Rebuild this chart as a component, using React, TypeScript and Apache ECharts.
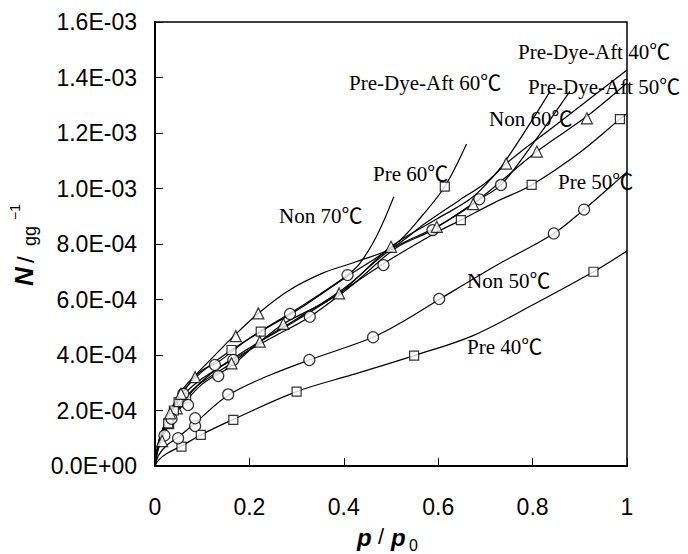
import React, { useEffect, useRef } from 'react';
import * as echarts from 'echarts';

// x: p/p0 ; y: N in units of 1E-04 g/g
const xTickValues = [0, 0.2, 0.4, 0.6, 0.8, 1];
const yTickValues = [0, 2, 4, 6, 8, 10, 12, 14, 16];

const pre40Line = [[0,0],[0.008,0.22],[0.025,0.45],[0.056,0.72],[0.097,1.12],[0.166,1.68],[0.3,2.68],[0.42,3.3],[0.549,3.98],[0.674,4.7],[0.794,5.75],[0.929,7.0],[1,7.75]];
const pre40Pts = [[0.056,0.7],[0.097,1.12],[0.166,1.66],[0.3,2.68],[0.549,3.98],[0.929,7.0]];

const non50Line = [[0,0],[0.008,0.4],[0.025,0.75],[0.05,1.05],[0.085,1.55],[0.155,2.55],[0.24,3.25],[0.327,3.82],[0.462,4.64],[0.53,5.25],[0.602,6.0],[0.72,7.2],[0.845,8.38],[0.909,9.24],[0.967,10.1],[1,10.6]];
const non50Pts = [[0.049,1.0],[0.085,1.44],[0.085,1.72],[0.155,2.58],[0.327,3.82],[0.462,4.64],[0.602,6.02],[0.845,8.38],[0.909,9.24]];

const pre50Line = [[0,0],[0.008,0.7],[0.03,1.5],[0.066,2.44],[0.12,3.35],[0.2,4.25],[0.3,5.25],[0.39,6.22],[0.485,7.3],[0.594,8.4],[0.648,8.86],[0.72,9.5],[0.798,10.13],[0.9,11.3],[0.985,12.5],[1,12.7]];
const pre50Pts = [[0.03,1.51],[0.066,2.44],[0.648,8.86],[0.798,10.13],[0.985,12.5]];

const pre60Line = [[0,0],[0.008,0.9],[0.03,1.85],[0.06,2.7],[0.1,3.4],[0.162,4.18],[0.224,4.84],[0.3,5.6],[0.4,6.75],[0.51,8.0],[0.565,9.0],[0.614,10.07],[0.66,11.6]];
const pre60Pts = [[0.162,4.18],[0.224,4.84],[0.614,10.07]];

const non70Line = [[0,0],[0.008,0.9],[0.03,1.9],[0.06,2.8],[0.1,3.45],[0.134,3.75],[0.2,4.6],[0.286,5.5],[0.35,6.2],[0.408,6.88],[0.434,7.3],[0.47,8.3],[0.506,9.7]];
const non70Pts = [[0.127,3.64],[0.286,5.48],[0.408,6.88]];

const non60Line = [[0,0],[0.008,0.8],[0.03,1.75],[0.06,2.55],[0.1,3.15],[0.166,3.85],[0.25,4.65],[0.328,5.38],[0.42,6.55],[0.51,7.85],[0.588,8.5],[0.687,9.61],[0.733,10.13],[0.8,11.6],[0.879,13.5]];
const non60Pts = [[0.134,3.24],[0.166,3.82],[0.328,5.38],[0.484,7.24],[0.588,8.5],[0.687,9.61],[0.733,10.13]];

const pda60Line = [[0,0],[0.004,0.5],[0.012,1.1],[0.025,1.6],[0.046,2.3],[0.085,3.25],[0.124,3.94],[0.171,4.75],[0.219,5.5],[0.281,6.3],[0.354,6.94],[0.426,7.36],[0.5,7.84],[0.572,8.74],[0.645,9.58],[0.7,10.2],[0.734,10.79],[0.837,13.5]];
const pda60Pts = [[0.046,2.08],[0.085,3.2],[0.171,4.68],[0.219,5.5],[0.5,7.9]];

const pda40Line = [[0,0],[0.006,0.6],[0.02,1.3],[0.046,2.08],[0.09,2.9],[0.162,3.7],[0.222,4.48],[0.272,5.12],[0.39,6.22],[0.5,7.9],[0.597,8.9],[0.674,9.7],[0.744,10.9],[0.85,12.3],[1,14.27]];
const pda40Pts = [[0.162,3.7],[0.272,5.12],[0.39,6.22],[0.744,10.9]];

const pda50Line = [[0,0],[0.006,0.55],[0.02,1.2],[0.05,2.0],[0.1,2.95],[0.162,3.6],[0.222,4.48],[0.3,5.3],[0.4,6.4],[0.5,7.8],[0.597,8.62],[0.674,9.44],[0.809,11.33],[0.915,12.6],[1,13.8]];
const pda50Pts = [[0.222,4.48],[0.597,8.62],[0.674,9.44],[0.809,11.33],[0.915,12.53]];

const clusterSquares = [[0.028,1.54],[0.04,2.0],[0.05,2.3]];
const clusterCircles = [[0.02,1.1],[0.035,1.7],[0.06,2.6],[0.07,2.2]];
const clusterTriangles = [[0.015,0.9],[0.032,1.9],[0.055,2.6]];

const labelTexts = ['Pre-Dye-Aft 40℃','Pre-Dye-Aft 60℃','Pre-Dye-Aft 50℃','Non 60℃','Pre 60℃','Pre 50℃','Non 70℃','Non 50℃','Pre 40℃'];
const labelPos = [[518,52],[349,83],[528,87],[489,119],[373,174],[558,182],[279,216],[467,281],[467,347]];

const curves = [
  { line: pre40Line, pts: pre40Pts, sym: 'rect' },
  { line: non50Line, pts: non50Pts, sym: 'circle' },
  { line: pre50Line, pts: pre50Pts, sym: 'rect' },
  { line: pre60Line, pts: pre60Pts, sym: 'rect' },
  { line: non70Line, pts: non70Pts, sym: 'circle' },
  { line: non60Line, pts: non60Pts, sym: 'circle' },
  { line: pda60Line, pts: pda60Pts, sym: 'triangle' },
  { line: pda40Line, pts: pda40Pts, sym: 'triangle' },
  { line: pda50Line, pts: pda50Pts, sym: 'triangle' },
  { line: null, pts: clusterSquares, sym: 'rect' },
  { line: null, pts: clusterCircles, sym: 'circle' },
  { line: null, pts: clusterTriangles, sym: 'triangle' },
];

const symSize: Record<string, number> = { rect: 9, circle: 11, triangle: 11 };

function fmtE(v: number) {
  if (v === 0) return '0.0E+00';
  const val = v * 1e-4;
  const exp = Math.floor(Math.log10(val) + 1e-9);
  const mant = val / Math.pow(10, exp);
  return mant.toFixed(1) + 'E' + (exp < 0 ? '-' : '+') + String(Math.abs(exp)).padStart(2, '0');
}

const SERIF = "'Liberation Serif', 'Times New Roman', 'Noto Sans CJK JP', serif";
const SANS = "'Liberation Sans', Arial, sans-serif";

export default function App() {
  const ref = useRef<HTMLDivElement>(null);
  useEffect(() => {
    if (!ref.current) return;
    const chart = echarts.init(ref.current, undefined, { renderer: 'svg' });
    const series: any[] = [];
    curves.forEach((c) => {
      if (c.line) {
        series.push({
          type: 'line', data: c.line, smooth: 0.35, showSymbol: false, silent: true,
          lineStyle: { color: '#000', width: 1.2 }, z: 2,
        });
      }
      series.push({
        type: 'scatter', data: c.pts, symbol: c.sym, symbolSize: symSize[c.sym], silent: true,
        itemStyle: { color: '#fff', borderColor: '#000', borderWidth: 1.2 }, z: 3,
      });
    });
    const graphic: any[] = labelTexts.map((t, i) => ({
      type: 'text', x: labelPos[i][0], y: labelPos[i][1], silent: true, z: 10,
      style: { text: t, font: `21px ${SERIF}`, fill: '#000', align: 'left', verticalAlign: 'middle' },
    }));
    graphic.push({
      type: 'group', x: 37, y: 286, rotation: Math.PI / 2, silent: true,
      children: [
        { type: 'text', x: 0, y: 0, style: { text: 'N', font: `italic bold 26px ${SANS}`, fill: '#000', align: 'left', verticalAlign: 'bottom' } },
        { type: 'text', x: 23, y: 0, style: { text: '/', font: `24px ${SANS}`, fill: '#000', align: 'left', verticalAlign: 'bottom' } },
        { type: 'text', x: 40, y: 2, style: { text: 'gg', font: `18px ${SANS}`, fill: '#000', align: 'left', verticalAlign: 'bottom' } },
        { type: 'text', x: 66, y: -15, style: { text: '−1', font: `14px ${SANS}`, fill: '#000', align: 'left', verticalAlign: 'bottom' } },
      ],
    });
    graphic.push({
      type: 'group', x: 357, y: 549, silent: true,
      children: [
        { type: 'text', x: 0, y: 0, style: { text: 'p', font: `italic bold 24px ${SANS}`, fill: '#000', verticalAlign: 'bottom' } },
        { type: 'text', x: 21, y: -2, style: { text: '/', font: `22px ${SANS}`, fill: '#000', verticalAlign: 'bottom' } },
        { type: 'text', x: 34, y: 0, style: { text: 'p', font: `italic bold 24px ${SANS}`, fill: '#000', verticalAlign: 'bottom' } },
        { type: 'text', x: 52, y: 4, style: { text: '0', font: `16px ${SANS}`, fill: '#000', verticalAlign: 'bottom' } },
      ],
    });
    chart.setOption({
      animation: false,
      backgroundColor: '#fff',
      grid: { left: 155, right: 61, top: 22, bottom: 88, show: true, borderColor: '#000', borderWidth: 1.5, backgroundColor: 'transparent' },
      xAxis: {
        type: 'value', min: 0, max: 1, interval: 0.2,
        axisLine: { show: true, lineStyle: { color: '#000', width: 2 } },
        axisTick: { show: true, inside: true, length: 8, lineStyle: { color: '#000', width: 1 } },
        axisLabel: { margin: 29, fontSize: 23, color: '#000', fontFamily: SANS, formatter: (v: number) => String(+v.toFixed(1)) },
        splitLine: { show: false },
      },
      yAxis: {
        type: 'value', min: 0, max: 16, interval: 2,
        axisLine: { show: true, lineStyle: { color: '#000', width: 2 } },
        axisTick: { show: true, inside: true, length: 8, lineStyle: { color: '#000', width: 1 } },
        axisLabel: { margin: 18, fontSize: 23, color: '#000', fontFamily: SANS, formatter: fmtE },
        splitLine: { show: false },
      },
      series,
      graphic,
    });
    return () => chart.dispose();
  }, []);
  return <div ref={ref} style={{ position: 'fixed', left: 0, top: 0, width: 688, height: 554 }} />;
}
